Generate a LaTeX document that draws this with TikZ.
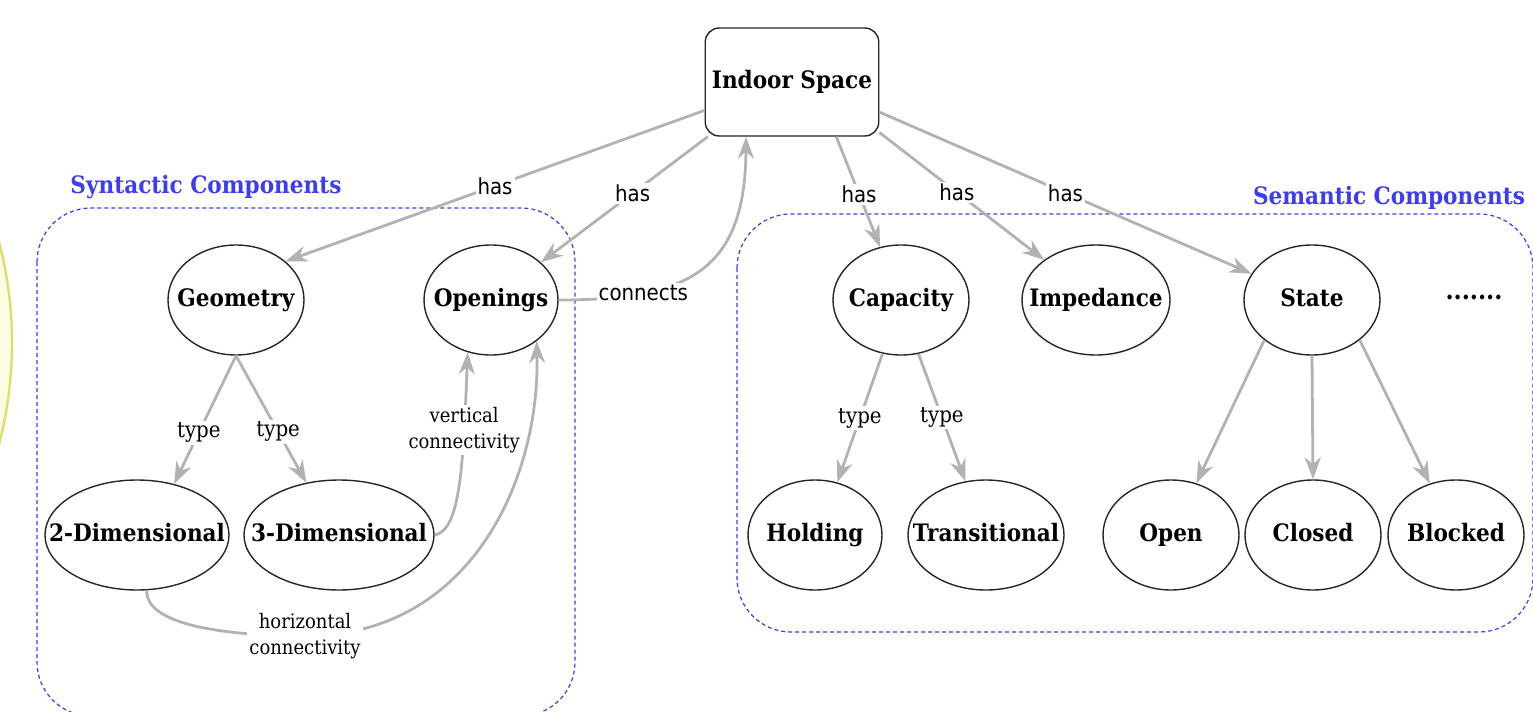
\documentclass[tikz,border=0pt]{standalone}
\usepackage{fontspec}
\setmainfont{DejaVu Serif Condensed}
\newfontfamily\hasfont{DejaVu Sans Condensed}
\usepackage{xcolor}
\usetikzlibrary{shapes.geometric,arrows.meta,positioning}

\definecolor{ringyellow}{RGB}{222,222,110}
\definecolor{ringfill}{RGB}{252,252,226}
\definecolor{linkgray}{RGB}{178,178,178}
\definecolor{groupblue}{RGB}{60,60,245}

% text of fixed-size ellipses takes no width
\newcommand{\ctext}[1]{\makebox[0pt]{#1}}

\tikzset{
  concept/.style={ellipse, draw=black!85, line width=0.7pt, fill=white, minimum height=55pt, inner sep=0pt, text height=1.6ex, text depth=0.3ex, font=\fontsize{12}{14}\selectfont\bfseries},
  link/.style={draw=linkgray, line width=1.4pt, -{Stealth[length=11pt,width=8pt,inset=3.5pt]}},
  lbl/.style={fill=white, inner sep=1pt, font=\fontsize{11}{13}\selectfont},
  smalllbl/.style={fill=white, inner sep=1pt, align=center, font=\fontsize{10}{13}\selectfont},
  haslbl/.style={fill=white, inner sep=1pt, font=\hasfont\fontsize{11}{13}\selectfont},
  group/.style={draw=groupblue, dash pattern=on 2pt off 1.5pt, line width=0.6pt, rounded corners=27pt},
  grouptitle/.style={text=groupblue, font=\fontsize{12}{14}\selectfont\bfseries}
}

\begin{document}
\begin{tikzpicture}[x=0.5pt,y=-0.5pt]
    \useasboundingbox (0,0) rectangle (1533,712);

    % Yellow ring at the left edge
    \draw[ringyellow, fill=ringfill, line width=1.2pt] (-386,343) circle (398);

    % Groups
    \draw[group] (37,208) rectangle (575,716);
    \node[grouptitle] (syntitle) at (206,187) {Syntactic Components};
    \draw[group] (737,214) rectangle (1533,632);
    \node[grouptitle, anchor=east] (semtitle) at (1532,198) {Semantic Components};

    % Root
    \node[draw=black!85, line width=0.7pt, fill=white, rounded corners=7pt, minimum width=85pt, minimum height=54pt, font=\fontsize{12}{14}\selectfont\bfseries] (indoor) at (792,82) {Indoor Space};

    % Syntactic components
    \node[concept, minimum width=68pt] (geometry) at (236,300) {\ctext{Geometry}};
    \node[concept, minimum width=67pt] (openings) at (491,300) {\ctext{Openings}};
    \node[concept, minimum width=92pt] (twod) at (137,535) {\ctext{2-Dimensional}};
    \node[concept, minimum width=95pt] (threed) at (339,535) {\ctext{3-Dimensional}};

    % Semantic components
    \node[concept, minimum width=68pt] (capacity) at (901,300) {\ctext{Capacity}};
    \node[concept, minimum width=74pt] (impedance) at (1096,300) {\ctext{Impedance}};
    \node[concept, minimum width=68pt] (state) at (1312,300) {\ctext{State}};
    \node[font=\fontsize{13}{15}\selectfont\bfseries] (more) at (1474,297) {.......};
    \node[concept, minimum width=67pt] (holding) at (815,535) {\ctext{Holding}};
    \node[concept, minimum width=78pt] (transitional) at (986,535) {\ctext{Transitional}};
    \node[concept, minimum width=68pt] (open) at (1171,535) {\ctext{Open}};
    \node[concept, minimum width=68pt] (closed) at (1313,535) {\ctext{Closed}};
    \node[concept, minimum width=68pt] (blocked) at (1456,535) {\ctext{Blocked}};

    % has
    \draw[link] (indoor.198) -- node[haslbl, pos=0.5] {has} (geometry.38);
    \draw[link] (indoor.-147) -- node[haslbl, pos=0.45] {has} (openings.37);
    \draw[link] (indoor.-51) -- node[haslbl, pos=0.52] {has} (capacity);
    \draw[link] (indoor.-30) -- node[haslbl, pos=0.47] {has} (impedance);
    \draw[link] (indoor.-19) -- node[haslbl, pos=0.5] {has} (state);

    % connects
    \draw[link] (openings.east) .. controls (690,300) and (745,270) .. node[haslbl, pos=0.25] {connects} (indoor.-130);

    % type
    \draw[link] (geometry.south) -- node[lbl, pos=0.6] {type} (twod.54);
    \draw[link] (geometry.south) -- node[lbl, pos=0.6] {type} (threed.122);
    \draw[link] (capacity.-109) -- node[lbl, pos=0.5] {type} (holding.67);
    \draw[link] (capacity.-72) -- node[lbl, pos=0.5] {type} (transitional.111);

    % connectivity
    \draw[link] (threed.east) .. controls (460,530) and (463,470) .. node[smalllbl, pos=0.75] {vertical\\connectivity} (openings.-114);
    \draw[link] (twod.-80) .. controls (145,630) and (250,636) .. (305,636) node[smalllbl] {horizontal\\connectivity} .. controls (470,636) and (540,480) .. (openings.-42);

    % states
    \draw[link] (state.-140) -- (open.64);
    \draw[link] (state.south) -- (closed.north);
    \draw[link] (state.-40) -- (blocked.117);
\end{tikzpicture}
\end{document}
